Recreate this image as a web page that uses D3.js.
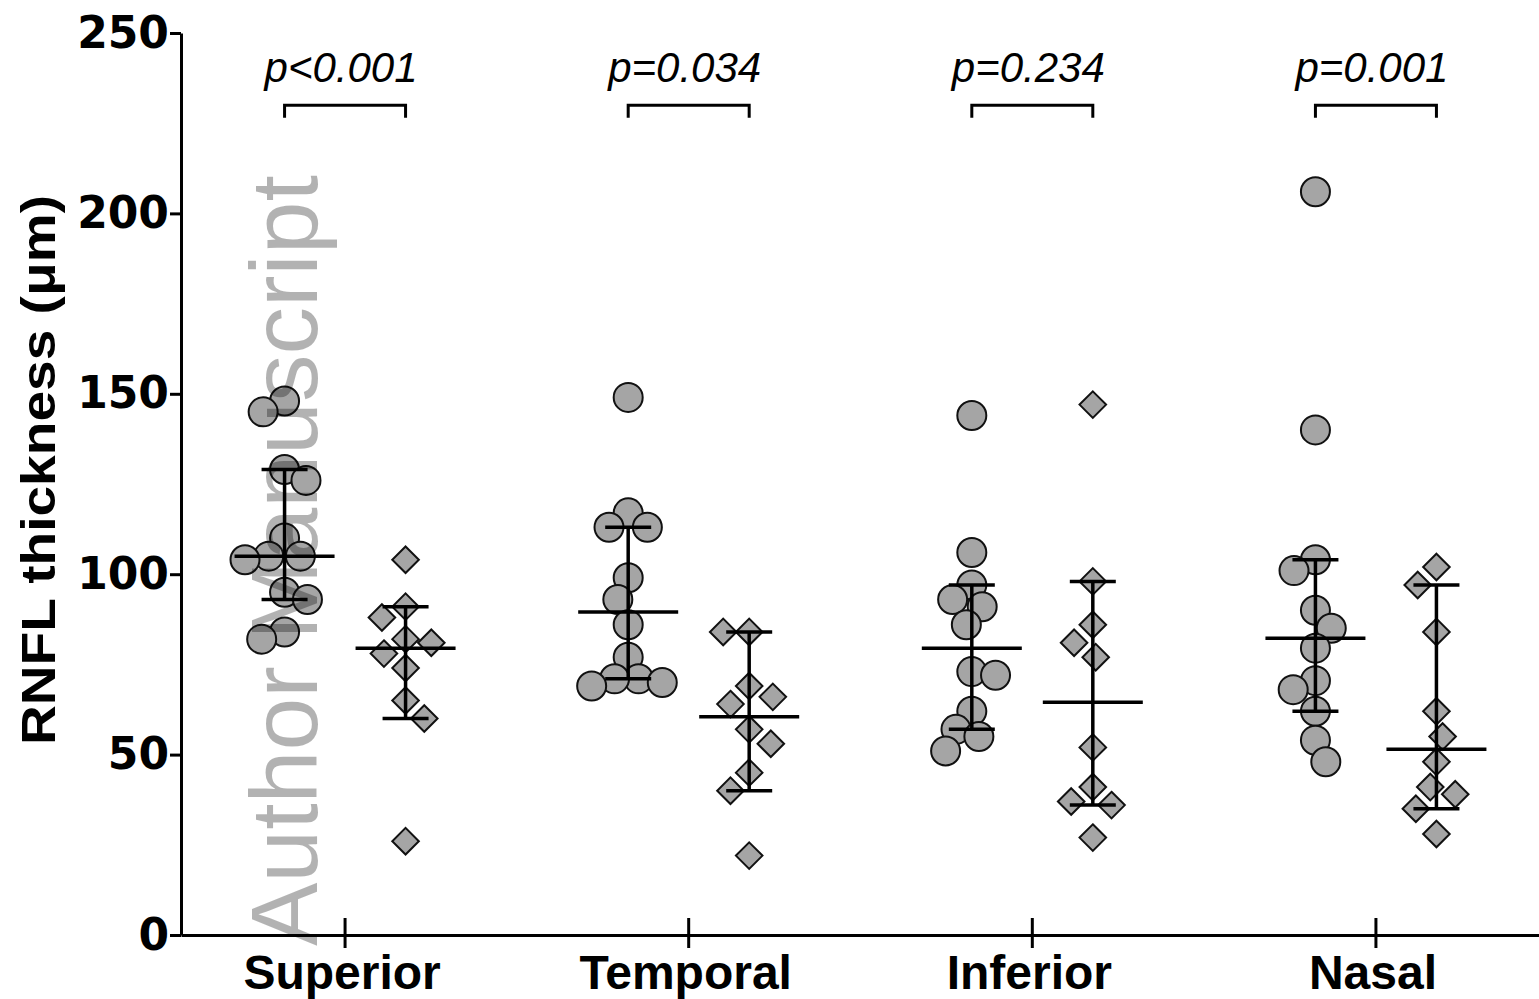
<!DOCTYPE html>
<html>
<head>
<meta charset="utf-8">
<script src="https://cdn.jsdelivr.net/npm/d3@7"></script>
<style>
  body { margin: 0; background: #fff; }
  svg { display: block; }
</style>
</head>
<body>
<script>
const categories = ["Superior", "Temporal", "Inferior", "Nasal"]
const yTicks = [0, 50, 100, 150, 200, 250]
const pLabels = ["p<0.001", "p=0.034", "p=0.234", "p=0.001"]

// circles (first group) per region
const superiorA = [145, 148, 129, 126, 110, 105, 104, 105, 93, 95, 82, 84]
const temporalA = [149, 113, 113, 117, 99, 93, 86, 77, 71, 69, 70, 71]
const inferiorA = [144, 106, 97, 93, 91, 86, 73, 72, 62, 57, 55, 51]
const nasalA = [206, 140, 104, 101, 90, 85, 79.5, 68, 70.5, 62, 54, 48]
// diamonds (second group) per region
const superiorB = [104, 91, 88, 81, 82, 78, 74, 65, 60, 26]
const temporalB = [84, 84, 69, 64, 66, 57, 53, 45, 40, 22]
const inferiorB = [147, 98, 86, 81, 77, 52, 41, 37, 36, 27]
const nasalB = [102, 97, 84, 62, 55, 48, 41, 39, 35, 28]

const groupA = [superiorA, temporalA, inferiorA, nasalA]
const groupB = [superiorB, temporalB, inferiorB, nasalB]

const width = 1539
const height = 999
const margin = { top: 33, right: 0, bottom: 63, left: 181 }

const svg = d3.select('body').append('svg')
  .attr('width', width)
  .attr('height', height)

const x = d3.scalePoint()
  .domain(categories)
  .range([margin.left, width - margin.right])
  .padding(0.476)

const y = d3.scaleLinear()
  .domain([0, 250])
  .range([height - margin.bottom - 1, margin.top])

const offA = -60, offB = 61

// median with 95% CI of the median (rank based, binomial)
function medianCI(vals) {
  const s = vals.slice().sort((a, b) => a - b)
  const n = s.length
  let k = 1, cdf = 0, c = 1
  const tot = Math.pow(2, n)
  for (let j = 0; j < n; j++) {
    cdf += c / tot
    if (2 * cdf > 0.05) { k = Math.max(1, j); break }
    c = c * (n - j) / (j + 1)
  }
  return { med: d3.median(s), lo: s[k - 1], hi: s[n - k] }
}

// simple beeswarm so that markers sit side by side
function swarm(vals, D) {
  const pts = vals.map(v => ({ v, py: y(v) })).sort((a, b) => a.py - b.py)
  const placed = []
  let side = 1
  for (const p of pts) {
    const cands = [0]
    for (const q of placed) {
      const dy = Math.abs(q.py - p.py)
      if (dy < D) {
        const dx = Math.sqrt(D * D - dy * dy)
        cands.push(q.dx + dx, q.dx - dx)
      }
    }
    const ok = cands.filter(c => placed.every(q => (q.dx - c) ** 2 + (q.py - p.py) ** 2 >= D * D - 0.01))
    ok.sort((a, b) => Math.abs(a) - Math.abs(b) || (a - b) * side)
    p.dx = ok[0]
    if (Math.abs(p.dx) > 0.01) side = -side
    placed.push(p)
  }
  return pts
}

// axes
const yAxis = svg.append('g')
  .attr('transform', `translate(${margin.left},0)`)
  .call(d3.axisLeft(y).tickValues(yTicks).tickSize(11).tickSizeOuter(0).tickPadding(1))
yAxis.select('.domain').attr('stroke-width', 3)
yAxis.selectAll('.tick line').attr('stroke-width', 3)
yAxis.selectAll('.tick text')
  .attr('font-family', 'DejaVu Sans')
  .attr('font-weight', 'bold')
  .attr('font-size', 44)
  .attr('fill', '#000')

const xAxis = svg.append('g')
  .attr('transform', `translate(0,${y(0)})`)
  .call(d3.axisBottom(x).tickSize(13).tickSizeOuter(0).tickPadding(7))
xAxis.select('.domain').attr('stroke-width', 3)
xAxis.selectAll('.tick line').attr('stroke-width', 3).attr('y1', -17)
xAxis.selectAll('.tick text')
  .attr('font-family', 'Liberation Sans, Arial, sans-serif')
  .attr('font-weight', 'bold')
  .attr('font-size', 48)
  .attr('fill', '#000')
  .attr('dx', -3)

svg.append('text')
  .attr('transform', `translate(55,${470}) rotate(-90)`)
  .attr('text-anchor', 'middle')
  .attr('font-family', 'Liberation Sans, Arial, sans-serif')
  .attr('font-weight', 'bold')
  .attr('font-size', 49)
  .attr('textLength', 550)
  .attr('lengthAdjust', 'spacingAndGlyphs')
  .text('RNFL thickness  (\u03bcm)')

// significance brackets
categories.forEach((cat, i) => {
  const x1 = x(cat) + offA, x2 = x(cat) + offB
  svg.append('path')
    .attr('d', `M${x1},${y(226.5)}V${y(230)}H${x2}V${y(226.5)}`)
    .attr('fill', 'none')
    .attr('stroke', '#000')
    .attr('stroke-width', 3)
  svg.append('text')
    .attr('x', (x1 + x2) / 2 - 4)
    .attr('y', y(236.5))
    .attr('text-anchor', 'middle')
    .attr('font-family', 'Liberation Sans, Arial, sans-serif')
    .attr('font-style', 'italic')
    .attr('font-size', 42)
    .text(pLabels[i])
})

const marks = svg.append('g')
const bars = svg.append('g')

categories.forEach((cat, i) => {
  [[groupA[i], offA, 'circle', 24], [groupB[i], offB, 'diamond', 26]].forEach(([vals, off, shape, D]) => {
    const cx = x(cat) + off
    const pts = swarm(vals, D)
    const sym = shape === 'circle' ? d3.symbolCircle : d3.symbolDiamond2
    const size = shape === 'circle' ? Math.PI * 14.5 * 14.5 : 2 * 15 * 15
    marks.selectAll(null)
      .data(pts)
      .join('path')
      .attr('d', d3.symbol().type(sym).size(size))
      .attr('transform', d => `translate(${cx + d.dx},${d.py})`)
      .attr('fill', '#a5a5a5')
      .attr('stroke', '#111')
      .attr('stroke-width', 2)

    const s = medianCI(vals)
    const g = bars.append('g').attr('stroke', '#000').attr('stroke-width', 3.5)
    g.append('line').attr('x1', cx).attr('x2', cx).attr('y1', y(s.lo)).attr('y2', y(s.hi))
    g.append('line').attr('x1', cx - 23).attr('x2', cx + 23).attr('y1', y(s.lo)).attr('y2', y(s.lo))
    g.append('line').attr('x1', cx - 23).attr('x2', cx + 23).attr('y1', y(s.hi)).attr('y2', y(s.hi))
    g.append('line').attr('x1', cx - 50).attr('x2', cx + 50).attr('y1', y(s.med)).attr('y2', y(s.med))
  })
})

// watermark
svg.append('text')
  .attr('transform', 'translate(317,946) rotate(-90)')
  .attr('font-family', 'Liberation Sans, Arial, sans-serif')
  .attr('font-size', 95)
  .attr('fill', '#000')
  .attr('fill-opacity', 0.3)
  .text('Author Manuscript')
</script>
</body>
</html>
